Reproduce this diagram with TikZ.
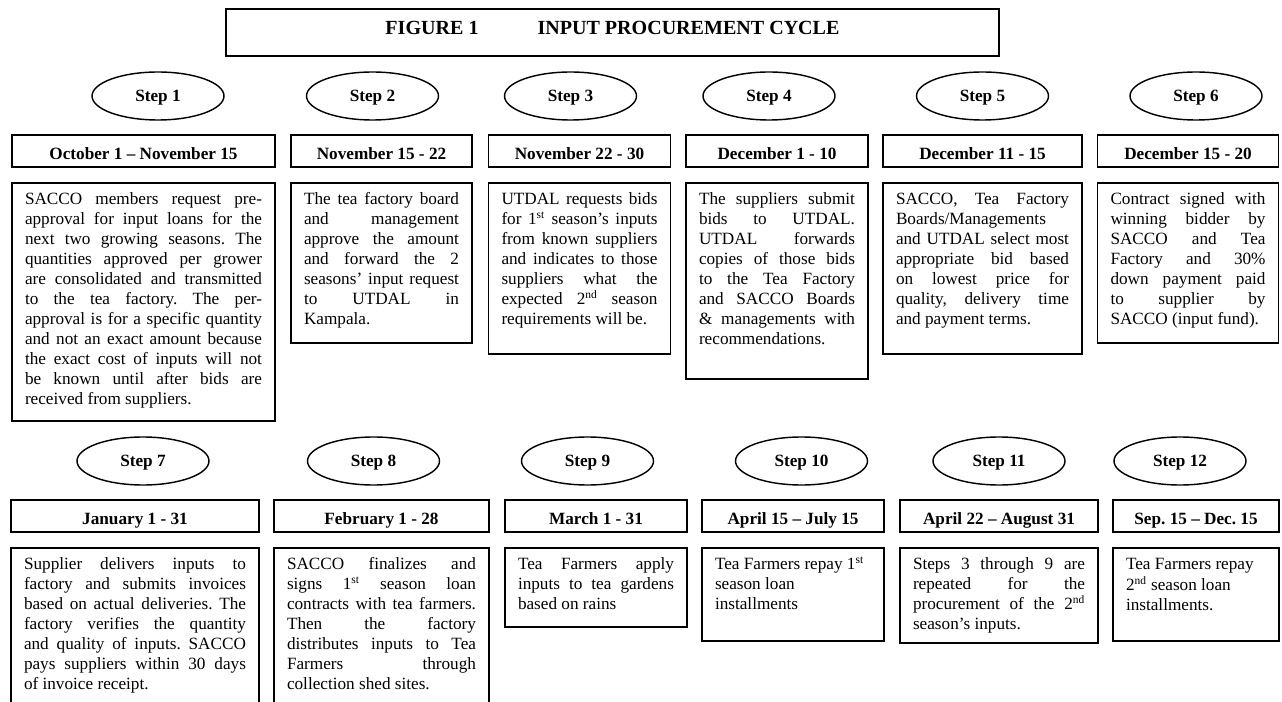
\documentclass[tikz,border=0pt,12pt]{standalone}
\usepackage{fontspec}
\setmainfont{Liberation Serif}
\usetikzlibrary{shapes.geometric,positioning}

\newdimen\px
\px=0.698pt
\hbadness=10000
\hfuzz=3pt
\vbadness=10000
\frenchspacing
\newcommand{\boxtext}[3]{\parbox[t][\dimexpr#2\px-15\px\relax][t]{\dimexpr#1\px-26\px\relax}{\tolerance=10000 \emergencystretch=0pt \hyphenpenalty=10000 \strut#3}}

\tikzset{
  titlebox/.style={draw, line width=1.3pt, minimum width=773\px, minimum height=47\px, inner sep=0pt,
    font=\fontsize{14pt}{16pt}\selectfont\bfseries, text height=13\px, text depth=8\px},
  stepoval/.style={draw, ellipse, line width=1pt, minimum width=132\px, minimum height=48\px, inner sep=0pt,
    font=\fontsize{12pt}{14pt}\selectfont\bfseries, text height=12\px, text depth=0pt},
  datebox/.style={draw, line width=1.3pt, minimum height=32\px, inner sep=0pt,
    font=\fontsize{12pt}{14pt}\selectfont\bfseries, text height=17\px, text depth=0pt},
  bodybox/.style={draw, line width=1.3pt, inner xsep=13\px, inner ysep=7.5\px,
    font=\fontsize{12pt}{13.96pt}\selectfont}
}

\begin{document}
\begin{tikzpicture}[x=0.698pt, y=-0.698pt]
  \useasboundingbox (0,0) rectangle (1282,702);
  \fill[white] (0,0) rectangle (1282,702);
  \clip (0,0) rectangle (1282,702);

  % title
  \node[titlebox] (title) at (612.5,32.5) {FIGURE 1\hspace{59\px}INPUT PROCUREMENT CYCLE};

  % step ovals
  \foreach \n/\x in {1/158, 2/372.5, 3/570.5, 4/769, 5/982.5, 6/1196}
    \node[stepoval] (step\n) at (\x,96) {Step \n};
  \foreach \n/\x in {7/143, 8/373.5, 9/587.5, 10/801.5, 11/999, 12/1180}
    \node[stepoval] (step\n) at (\x,461) {Step \n};

  % dates, first row
  \node[datebox, minimum width=263\px] (date1) at (143.5,151) {October 1 – November 15};
  \node[datebox, minimum width=181\px] (date2) at (381.5,151) {November 15 - 22};
  \node[datebox, minimum width=182\px] (date3) at (579.5,151) {November 22 - 30};
  \node[datebox, minimum width=182\px] (date4) at (777,151) {December 1 - 10};
  \node[datebox, minimum width=199\px] (date5) at (982.5,151) {December 11 - 15};
  \node[datebox, minimum width=181\px] (date6) at (1188,151) {December 15 - 20};

  % dates, second row
  \node[datebox, minimum width=248\px] (date7) at (135,516) {January 1 - 31};
  \node[datebox, minimum width=215\px] (date8) at (381.5,516) {February 1 - 28};
  \node[datebox, minimum width=182\px] (date9) at (596,516) {March 1 - 31};
  \node[datebox, minimum width=182\px] (date10) at (793,516) {April 15 – July 15};
  \node[datebox, minimum width=198\px] (date11) at (999,516) {April 22 – August 31};
  \node[datebox, minimum width=166\px] (date12) at (1196,516) {Sep. 15 – Dec. 15};

  % texts, first row
  \node[bodybox, below=14\px of date1.south west, anchor=north west] (body1) {\boxtext{263}{238}{SACCO members request pre-\linebreak
    approval for input loans for the\linebreak next two growing seasons. The\linebreak
    quantities approved per grower\linebreak are consolidated and transmitted\linebreak
    to the tea factory. The per-\linebreak approval is for a specific quantity\linebreak
    and not an exact amount because\linebreak the exact cost of inputs will not\linebreak
    be known until after bids are\linebreak received from suppliers.}};
  \node[bodybox, below=14\px of date2.south west, anchor=north west] (body2) {\boxtext{181}{160}{The tea factory board\linebreak
    and management\linebreak approve the amount\linebreak and forward the 2\linebreak
    seasons’ input request\linebreak to UTDAL in\linebreak Kampala.}};
  \node[bodybox, below=14\px of date3.south west, anchor=north west] (body3) {\boxtext{182}{171}{UTDAL requests bids\linebreak
    for 1\textsuperscript{st} season’s inputs\linebreak from known suppliers\linebreak
    and indicates to those\linebreak suppliers what the\linebreak
    expected 2\textsuperscript{nd} season\linebreak requirements will be.}};
  \node[bodybox, below=14\px of date4.south west, anchor=north west] (body4) {\boxtext{182}{196}{The suppliers submit\linebreak
    bids to UTDAL.\linebreak UTDAL forwards\linebreak copies of those bids\linebreak
    to the Tea Factory\linebreak and SACCO Boards\linebreak \& managements with\linebreak
    recommendations.}};
  \node[bodybox, below=14\px of date5.south west, anchor=north west] (body5) {\boxtext{199}{171}{SACCO, Tea Factory\linebreak
    Boards/Managements\linebreak and UTDAL select most\linebreak appropriate bid based\linebreak
    on lowest price for\linebreak quality, delivery time\linebreak and payment terms.}};
  \node[bodybox, below=14\px of date6.south west, anchor=north west] (body6) {\boxtext{181}{160}{Contract signed with\linebreak
    winning bidder by\linebreak SACCO and Tea\linebreak Factory and 30\%\linebreak
    down payment paid\linebreak to supplier by\linebreak SACCO (input fund).}};

  % texts, second row
  \node[bodybox, below=14\px of date7.south west, anchor=north west] (body7) {\boxtext{248}{170}{Supplier delivers inputs to\linebreak
    factory and submits invoices\linebreak based on actual deliveries. The\linebreak
    factory verifies the quantity\linebreak and quality of inputs. SACCO\linebreak
    pays suppliers within 30 days\linebreak of invoice receipt.}};
  \node[bodybox, below=14\px of date8.south west, anchor=north west] (body8) {\boxtext{215}{170}{SACCO finalizes and\linebreak
    signs 1\textsuperscript{st} season loan\linebreak contracts with tea farmers.\linebreak
    Then the factory\linebreak distributes inputs to Tea\linebreak Farmers through\linebreak
    collection shed sites.}};
  \node[bodybox, below=14\px of date9.south west, anchor=north west] (body9) {\boxtext{182}{79}{Tea Farmers apply\linebreak
    inputs to tea gardens\linebreak based on rains}};
  \node[bodybox, below=14\px of date10.south west, anchor=north west] (body10) {\boxtext{182}{93}{Tea Farmers repay 1\textsuperscript{st}\\
    season loan\\ installments}};
  \node[bodybox, below=14\px of date11.south west, anchor=north west] (body11) {\boxtext{198}{95}{Steps 3 through 9 are\linebreak
    repeated for the\linebreak procurement of the 2\textsuperscript{nd}\linebreak season’s inputs.}};
  \node[bodybox, below=14\px of date12.south west, anchor=north west] (body12) {\boxtext{166}{93}{Tea Farmers repay\\
    2\textsuperscript{nd} season loan\\ installments.}};
\end{tikzpicture}
\end{document}
